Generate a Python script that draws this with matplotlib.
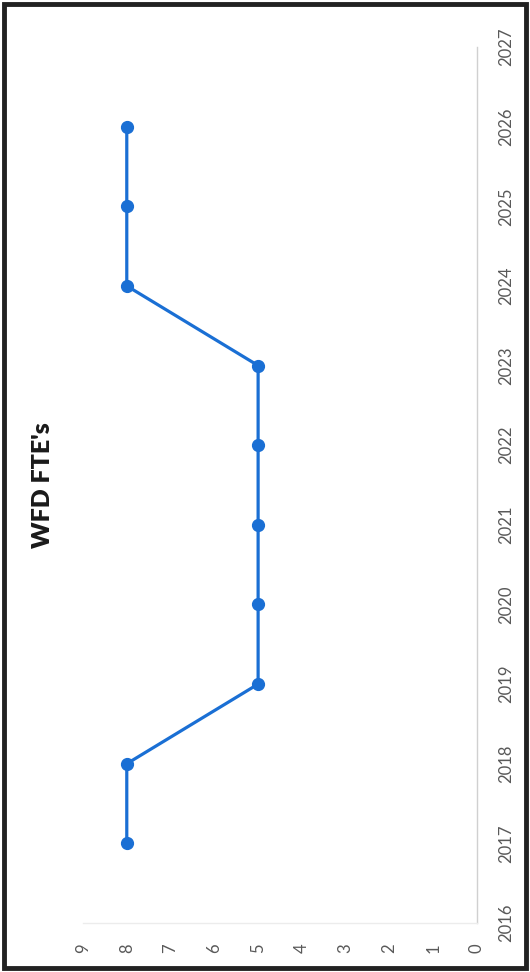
import numpy as np
import matplotlib.pyplot as plt
from matplotlib.patches import Rectangle

plt.rcParams['font.family'] = ['Lato', 'DejaVu Sans']

# data
years = [2017, 2018, 2019, 2020, 2021, 2022, 2023, 2024, 2025, 2026]
fte = [8, 8, 5, 5, 5, 5, 5, 8, 8, 8]
value_ticks = [0, 1, 2, 3, 4, 5, 6, 7, 8, 9]
year_ticks = list(range(2016, 2028))

W, H = 530, 972
fig = plt.figure(figsize=(W / 100, H / 100), dpi=100)

# chart is drawn rotated: years run up, values run right-to-left
ax = fig.add_axes([83 / W, 1 - 923 / H, (477 - 83) / W, (923 - 47) / H])
ax.plot(fte, years, color='#1a6fd4', lw=2.3, marker='o', ms=8.5,
        solid_capstyle='round')

ax.set_xlim(9, 0)
ax.set_ylim(2016, 2027)
ax.set_xticks(value_ticks)
ax.set_yticks(year_ticks)

for s in ['left', 'top']:
    ax.spines[s].set_visible(False)
ax.spines['right'].set_color('#d0d0d0')
ax.spines['right'].set_linewidth(1)
ax.spines['bottom'].set_color('#ececec')
ax.spines['bottom'].set_linewidth(1)

ax.yaxis.tick_right()
ax.tick_params(axis='both', length=0, labelsize=12, colors='#595959')
ax.tick_params(axis='y', pad=15)
ax.tick_params(axis='x', pad=15)
for lab in ax.get_yticklabels():
    lab.set_rotation(90)
    lab.set_ha('left')
    lab.set_va('center')
for lab in ax.get_xticklabels():
    lab.set_rotation(90)
    lab.set_ha('center')
    lab.set_va('top')

fig.text(43 / W, 1 - 485 / H, "WFD FTE's", rotation=90, ha='center', va='center',
         fontsize=18, fontweight='heavy', color='#1a1a1a')

# outer frame
fig.patches.append(Rectangle((4 / W, 4 / H), (W - 8) / W, (H - 8) / H,
                             transform=fig.transFigure, fill=False,
                             edgecolor='#222222', lw=3.5))

fig.savefig('out.png', dpi=100)
plt.close(fig)
